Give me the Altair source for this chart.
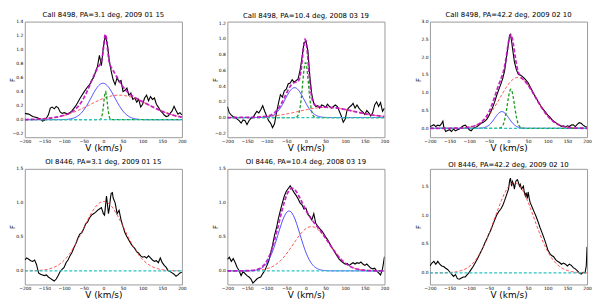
import altair as alt
import numpy as np
import pandas as pd

TITLES = [
    "CaII 8498, PA=3.1 deg, 2009 01 15",
    "CaII 8498, PA=10.4 deg, 2008 03 19",
    "CaII 8498, PA=42.2 deg, 2009 02 10",
    "OI 8446, PA=3.1 deg, 2009 01 15",
    "OI 8446, PA=10.4 deg, 2008 03 19",
    "OI 8446, PA=42.2 deg, 2009 02 10",
]
Y_DOMAINS = [[-0.25, 1.4], [-0.25, 1.22], [-0.25, 3.0], [-0.2, 1.5], [-0.2, 1.5], [-0.2, 1.8]]
Y_TICKS = [
    [-0.2, 0.0, 0.2, 0.4, 0.6, 0.8, 1.0, 1.2, 1.4],
    [-0.2, 0.0, 0.2, 0.4, 0.6, 0.8, 1.0, 1.2],
    [0.0, 0.5, 1.0, 1.5, 2.0, 2.5, 3.0],
    [0.0, 0.5, 1.0, 1.5],
    [0.0, 0.5, 1.0, 1.5],
    [0.0, 0.5, 1.0, 1.5],
]
X_TICKS = [-200, -150, -100, -50, 0, 50, 100, 150, 200]

P1_V = [-200, -190, -180, -170, -160, -155, -150, -145, -140, -135, -130, -125, -120, -115, -110, -105, -100,
        -90, -80, -70, -60, -50, -40, -35, -30, -25, -20, -15, -10, -5, 0, 5, 10, 15, 20, 25, 30, 35, 40, 45,
        50, 55, 60, 65, 70, 75, 80, 85, 90, 95, 100, 105, 110, 115, 120, 125, 130, 135, 140, 145, 150, 155,
        160, 165, 170, 175, 180, 185, 190, 195, 200]
P1_F = [0.09, 0.08, 0.045, 0.03, 0.01, -0.02, -0.01, 0.02, 0.07, 0.165, 0.18, 0.155, 0.19, 0.17, 0.11, 0.09, 0.1,
        0.08, 0.125, 0.2, 0.3, 0.39, 0.47, 0.5, 0.56, 0.6, 0.68, 0.76, 0.92, 0.77, 1.03, 1.2, 1.09, 0.85, 0.69,
        0.57, 0.5, 0.6, 0.54, 0.56, 0.4, 0.42, 0.45, 0.35, 0.38, 0.29, 0.31, 0.25, 0.29, 0.18, 0.22, 0.31, 0.35,
        0.27, 0.33, 0.29, 0.31, 0.22, 0.18, 0.13, 0.1, 0.067, 0.045, 0.054, 0.09, 0.125, 0.19, 0.13, 0.08, 0.1,
        0.067]

P2_V = list(range(-200, 201, 5))
P2_F = [0.14, 0.06, 0.03, 0.01, 0, -0.02, -0.04, -0.07, -0.03, -0.04,
        -0.09, -0.04, -0.01, 0, 0.04, 0.08, 0.06, 0.1, 0.15, 0.08,
        0.02, -0.04, -0.07, -0.13, -0.08, 0.06, 0.18, 0.29, 0.26, 0.34,
        0.36, 0.43, 0.44, 0.48, 0.45, 0.47, 0.49, 0.6, 0.76, 0.95,
        0.97, 0.85, 0.52, 0.29, 0.18, 0.14, 0.15, 0.12, 0.16, 0.15,
        0.13, 0.17, 0.14, 0.12, 0.14, 0.16, 0.14, 0.08, 0.02, -0.06,
        -0.02, 0.1, 0.13, 0.15, 0.18, 0.12, 0.16, 0.12, 0.09, 0.07,
        0.04, 0.09, 0.06, 0.02, 0.06, 0.16, 0.2, 0.14, 0.19, 0.08,
        0.12]

P3_V = [-200, -195, -190, -185, -180, -175, -170, -167, -165, -160, -155, -150, -145, -140, -135, -130, -125,
        -120, -115, -110, -105, -100, -95, -90, -85, -80, -75, -70, -65, -60, -55, -50, -45, -40, -35, -30,
        -25, -20, -15, -10, -5, 0, 3, 5, 8, 10, 15, 20, 25, 30, 35, 40, 45, 50, 55, 60, 65, 70, 75, 80, 85,
        90, 95, 100, 105, 110, 115, 120, 125, 130, 135, 140, 145, 150, 155, 160, 165, 170, 175, 180, 185,
        190, 195, 200]
P3_F = [0.05, 0.07, 0.1, 0.05, 0.09, 0.07, 0.14, 0.2,
        0.05, -0.09, -0.06, -0.04, -0.09, -0.02, -0.07, -0.04, -0.02, 0.03, 0.07, 0.09, 0.03, -0.04, -0.07,
        0, 0.02, 0.05, 0.09, 0.14, 0.16, 0.2, 0.26, 0.35, 0.47, 0.6, 0.75, 0.93, 1.08, 1.23, 1.39, 1.61,
        2.0, 2.4, 2.62, 2.64, 2.44, 2.27,
        1.87, 1.65, 1.52, 1.5, 1.46, 1.41, 1.35, 1.28, 1.17, 1.06,
        0.95, 0.86, 0.76, 0.67, 0.58, 0.51, 0.44, 0.37, 0.32, 0.25,
        0.2, 0.16, 0.12, 0.09, 0.05, 0.07, 0.04, 0.07, 0.05, 0.09,
        0.1, 0.05, 0.11, 0.16, 0.14, 0.09, 0.05, 0.03]

P4_V = (list(range(-200, 0, 5)) + [0, 3, 5, 8, 10, 13, 15, 18, 20, 23, 25] + list(range(30, 201, 5)))
P4_F = [0.16, 0.19, 0.17, 0.15, 0.14, 0.16, 0.09, -0.03, -0.05, -0.06,
        -0.07, -0.06, -0.09, -0.11, -0.13, -0.15, -0.12, -0.07, -0.01, 0.02,
        0.05, 0.12, 0.16, 0.22, 0.27, 0.34, 0.4, 0.48, 0.54, 0.56,
        0.62, 0.69, 0.72, 0.78, 0.82, 0.84, 0.86, 0.89, 0.91, 0.93,
        0.84, 0.82, 0.93, 1.1, 1.0, 0.84, 0.91, 1.07, 1.14, 1.15, 1.07,
        1.0, 0.84, 0.89, 0.75, 0.65, 0.56, 0.5, 0.45, 0.4, 0.36,
        0.33, 0.28, 0.26, 0.22, 0.2, 0.21, 0.19, 0.22, 0.19, 0.16,
        0.14, 0.15, 0.12, 0.19, 0.12, 0.08, 0.05, 0.0, -0.01, -0.03,
        -0.05, -0.08, -0.06, -0.03, -0.02]

P5_V = list(range(-200, 201, 5))
P5_F = [0.17, 0.2, 0.14, 0.18, 0.12, 0.05, 0.0, -0.07, -0.01, -0.04,
        -0.07, -0.09, -0.12, -0.18, -0.15, -0.12, -0.1, -0.09, -0.04, 0.0,
        0.07, 0.14, 0.25, 0.38, 0.52, 0.63, 0.77, 0.89, 1.0, 1.1,
        1.17, 1.21, 1.25, 1.2, 1.15, 1.11, 1.06, 1.0, 0.97, 0.91,
        0.92, 0.83, 0.8, 0.75, 0.84, 0.7, 0.66, 0.62, 0.59, 0.55,
        0.5, 0.46, 0.41, 0.35, 0.31, 0.26, 0.21, 0.17, 0.14, 0.12,
        0.1, 0.11, 0.08, 0.1, 0.12, 0.1, 0.12, 0.11, 0.13, 0.1,
        0.08, 0.1, 0.07, 0.04, 0.03, 0.04, 0.0, -0.03, -0.06, 0.03,
        0.21]

P6_V = (list(range(-200, 1, 5)) + [3, 5, 8, 10, 13, 15, 18, 20, 23, 25, 28, 30, 33, 35, 38, 40, 43, 45, 48, 50, 53, 55]
        + list(range(60, 196, 5)) + [198, 200])
P6_F = [0.12, 0.17, 0.2, 0.15, 0.2, 0.15, 0.12, 0.11, 0.08, 0.06,
        0.02, -0.02, -0.06, -0.03, -0.1, -0.11, -0.09, -0.07, -0.07, -0.03,
        0.01, 0.06, 0.11, 0.17, 0.23, 0.3, 0.37, 0.44, 0.52, 0.59,
        0.67, 0.74, 0.83, 0.92, 1.0, 1.06, 1.1, 1.16, 1.25, 1.35,
        1.45,
        1.6, 1.64, 1.5, 1.58, 1.53, 1.45, 1.57, 1.6, 1.61, 1.57, 1.5, 1.53, 1.45, 1.47, 1.5, 1.4, 1.33, 1.39,
        1.29, 1.4, 1.28, 1.22,
        1.14, 1.06, 0.98, 0.89, 0.79, 0.7, 0.61, 0.51, 0.4, 0.34,
        0.3, 0.28, 0.23, 0.2, 0.18, 0.15, 0.17, 0.15, 0.12, 0.15,
        0.13, 0.09, 0.07, 0.04, 0.0, -0.02, 0.01, 0.0,
        0.12, 0.45]

OBS = [(P1_V, P1_F), (P2_V, P2_F), (P3_V, P3_F), (P4_V, P4_F), (P5_V, P5_F), (P6_V, P6_F)]

# ---- Gaussian fit components: [amplitude, centre km/s, sigma km/s] ----
COMPONENTS = [
    {"blue": [0.52, -1, 30], "red": [0.35, 40, 75], "green": [0.40, 5.5, 4.5]},
    {"blue": [0.38, -29, 24], "red": [0.13, 52, 70], "green": [0.70, -1, 7.5]},
    {"blue": [0.47, -17, 18], "red": [1.43, 24, 45], "green": [1.10, 6, 9]},
    {"red": [1.02, 1, 52]},
    {"blue": [0.88, -43, 28], "red": [0.65, 14, 46]},
    {"red": [1.56, 15, 50]},
]
SHOW_TOTAL = [True, True, True, False, True, False]
BASELINE = 0.0

STYLES = {
    "obs": dict(color="black", strokeWidth=1.1),
    "blue": dict(color="#3a3aff", strokeWidth=0.9),
    "red": dict(color="#ff3030", strokeWidth=0.9, strokeDash=[3, 2]),
    "green": dict(color="#1a9a1a", strokeWidth=1.3, strokeDash=[3, 2]),
    "cyan": dict(color="#2ac4c4", strokeWidth=1.3, strokeDash=[3, 2]),
    "total": dict(color="#c010c0", strokeWidth=1.8, strokeDash=[4, 2], opacity=0.9),
}

V_GRID = np.arange(-200, 201, 2.0)

PW, PH = 159, 117


def gauss(p):
    a, c, s = p
    return a * np.exp(-((V_GRID - c) ** 2) / (2 * s * s))


def panel(i):
    xs = alt.X("v:Q", scale=alt.Scale(domain=[-200, 200], nice=False, zero=False),
               axis=alt.Axis(values=X_TICKS, format="d", title="V (km/s)"))
    ys = alt.Y("f:Q", scale=alt.Scale(domain=Y_DOMAINS[i], nice=False, zero=False),
               axis=alt.Axis(values=Y_TICKS[i], format=".1f", title="F"))
    layers = []
    v, f = OBS[i]
    df = pd.DataFrame({"v": v, "f": f})
    layers.append(alt.Chart(df).mark_line(clip=True, **STYLES["obs"]).encode(x=xs, y=ys, order="v:Q"))
    comps = COMPONENTS[i]
    total = np.zeros_like(V_GRID)
    for name in ["blue", "red", "green"]:
        if name in comps:
            g = gauss(comps[name])
            total = total + g
            d = pd.DataFrame({"v": V_GRID, "f": g})
            layers.append(alt.Chart(d).mark_line(clip=True, **STYLES[name]).encode(x=xs, y=ys, order="v:Q"))
    d = pd.DataFrame({"v": V_GRID, "f": np.full_like(V_GRID, BASELINE)})
    layers.append(alt.Chart(d).mark_line(clip=True, **STYLES["cyan"]).encode(x=xs, y=ys, order="v:Q"))
    if SHOW_TOTAL[i]:
        d = pd.DataFrame({"v": V_GRID, "f": total})
        layers.append(alt.Chart(d).mark_line(clip=True, **STYLES["total"]).encode(x=xs, y=ys, order="v:Q"))
    return alt.layer(*layers).properties(width=PW, height=PH, title=TITLES[i])


chart = alt.concat(
    *[panel(i) for i in range(6)], columns=3,
    spacing={"row": 32, "column": 46}, bounds="flush",
).properties(
    padding={"left": 0, "top": 0, "right": 0, "bottom": 0}
).configure_view(
    stroke="#999999", strokeWidth=1
).configure_axis(
    grid=False, ticks=False, domain=False, labelFont="DejaVu Sans", titleFont="DejaVu Sans",
    labelColor="black", titleColor="black", titleFontWeight="normal", labelOverlap=False,
    labelFlush=False,
).configure_axisX(
    labelFontSize=4.5, labelPadding=1.5, titleFontSize=9, titlePadding=1.5, minExtent=5, maxExtent=5,
).configure_axisY(
    labelFontSize=4.5, labelPadding=2, titleFontSize=7, titlePadding=1, minExtent=8, maxExtent=8,
).configure_title(
    font="DejaVu Sans", fontSize=7, fontWeight="normal", offset=1, color="black"
)

chart.save("out.html", embed_options={"renderer": "svg", "actions": False})
